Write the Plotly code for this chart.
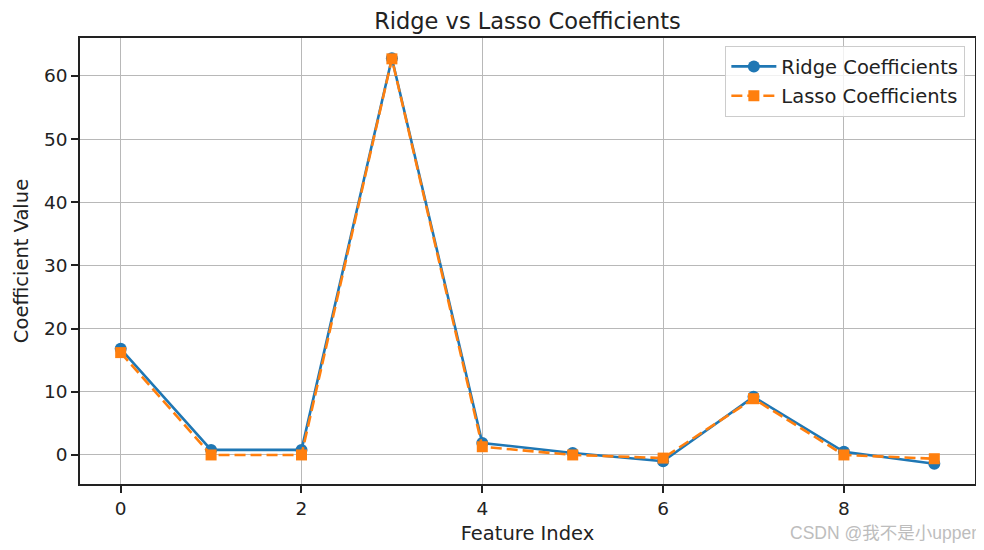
import plotly.graph_objects as go

feature_index = [0, 1, 2, 3, 4, 5, 6, 7, 8, 9]
ridge_coefs = [16.8, 0.8, 0.8, 62.8, 1.9, 0.3, -1.0, 9.2, 0.5, -1.4]
lasso_coefs = [16.2, 0.0, 0.0, 62.7, 1.3, 0.0, -0.5, 8.9, 0.0, -0.6]

fig = go.Figure()
fig.add_trace(go.Scatter(
    x=feature_index, y=ridge_coefs, mode="lines+markers",
    name="Ridge Coefficients", legendgroup="ridge",
    line=dict(color="#1f77b4", width=2.6),
    marker=dict(symbol="circle", size=12, color="#1f77b4"),
))
fig.add_trace(go.Scatter(
    x=feature_index, y=lasso_coefs, mode="lines+markers",
    name="Lasso Coefficients", legendgroup="lasso",
    line=dict(color="#ff7f0e", width=2.6, dash="11px,5px"),
    marker=dict(symbol="square", size=11, color="#ff7f0e"),
))

axis_common = dict(
    showline=True, linecolor="#222222", linewidth=1.5, mirror=True,
    ticks="outside", ticklen=7, tickwidth=1.5, tickcolor="#222222",
    showgrid=True, gridcolor="#b8b8b8", gridwidth=1.4, zeroline=False,
    automargin=False,
    tickfont=dict(family="DejaVu Sans", size=18.5, color="#222222"),
)

fig.update_layout(
    width=976, height=542,
    margin=dict(l=72, r=9, t=30, b=66),
    paper_bgcolor="white", plot_bgcolor="white",
    title=dict(text="Ridge vs Lasso Coefficients", x=0.5, xanchor="center",
               xref="paper", y=0.976, yanchor="middle",
               font=dict(family="DejaVu Sans", size=22.5, color="#222222")),
    xaxis=dict(range=[-0.45, 9.45], tickvals=[0, 2, 4, 6, 8],
               title=dict(text="Feature Index", standoff=8,
                          font=dict(family="DejaVu Sans", size=19.5, color="#222222")),
               **axis_common),
    yaxis=dict(range=[-4.6, 66.0], tickvals=[0, 10, 20, 30, 40, 50, 60],
               title=dict(text="Coefficient Value", standoff=10,
                          font=dict(family="DejaVu Sans", size=19.5, color="#222222")),
               **axis_common),
    legend=dict(x=0.989, y=0.982, xanchor="right", yanchor="top",
                bgcolor="rgba(255,255,255,0.8)", bordercolor="#cccccc", borderwidth=1.2,
                font=dict(family="DejaVu Sans", size=19.5, color="#222222"),
                itemwidth=45, tracegroupgap=1),
    showlegend=True,
)

fig.add_annotation(text="CSDN @我不是小upper", xref="paper", yref="paper",
                   x=1.004, y=-0.11, xanchor="right", yanchor="middle",
                   showarrow=False,
                   font=dict(family="Liberation Sans, Noto Sans CJK SC", size=17.5, color="#bdbdbd"))

fig.write_html("out.html")
